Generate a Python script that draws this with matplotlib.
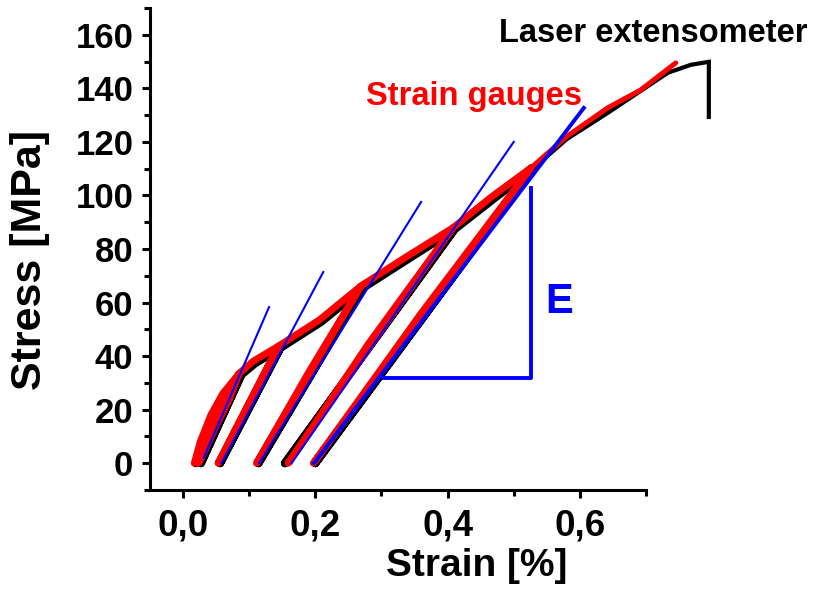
import matplotlib
matplotlib.use("Agg")
import matplotlib.pyplot as plt
from matplotlib.ticker import FixedLocator

plt.rcParams['font.family'] = ['Liberation Sans', 'DejaVu Sans']
plt.rcParams['font.weight'] = 'bold'

# ---------------- data ----------------
# Strain gauges (red): cyclic part
gauge_cyc_strain = [0.017, 0.026, 0.042, 0.060, 0.085, 0.062, 0.040, 0.023, 0.028, 0.050, 0.070, 0.085,
                    0.106, 0.144, 0.053, 0.100, 0.144,
                    0.206, 0.269, 0.111, 0.190, 0.269,
                    0.337, 0.408, 0.159, 0.280, 0.408,
                    0.466, 0.526, 0.197, 0.360, 0.526]
gauge_cyc_stress = [0, 8, 18, 26, 33.6, 23, 12, 0, 2, 14, 24, 33.6,
                    38.1, 43.7, 0, 22.5, 43.7,
                    53.5, 66.2, 0, 34, 66.2,
                    77.0, 87.9, 0, 44.5, 87.9,
                    99.4, 110.3, 0, 56, 110.3]
# Strain gauges (red): final loading
gauge_fin_strain = [0.526, 0.580, 0.642, 0.692, 0.745]
gauge_fin_stress = [110.3, 122.0, 132.7, 139.4, 149.5]

# Laser extensometer (black): cyclic part
laser_cyc_strain = [0.019, 0.030, 0.046, 0.064, 0.088, 0.027, 0.088,
                    0.109, 0.147, 0.056, 0.147,
                    0.209, 0.271, 0.114, 0.271,
                    0.340, 0.410, 0.154, 0.410,
                    0.469, 0.529, 0.200, 0.529]
laser_cyc_stress = [0, 8, 18, 26, 33, 0, 33,
                    37.3, 43.0, 0, 43.0,
                    52.8, 65.3, 0, 65.3,
                    76.2, 87.2, 0, 87.2,
                    98.6, 110.0, 0, 110.0]
# Laser extensometer (black): final loading and failure
laser_fin_strain = [0.529, 0.580, 0.642, 0.733, 0.768, 0.795, 0.795]
laser_fin_stress = [110.0, 121.0, 130.8, 145.8, 148.8, 149.9, 129.3]

# Modulus lines (blue): start/end per unloading cycle
mod_strain = [(0.031, 0.130), (0.058, 0.212), (0.115, 0.360), (0.164, 0.500)]
mod_stress = [(1.9, 58.3), (0.0, 71.4), (0.0, 97.6), (0.0, 120.0)]
final_mod_strain = (0.198, 0.606)
final_mod_stress = (0.0, 132.7)
# E triangle
tri_strain = [0.304, 0.526, 0.526]
tri_stress = [31.8, 31.8, 102.8]

xticks = [0.0, 0.2, 0.4, 0.6]
xtick_labels = ['0,0', '0,2', '0,4', '0,6']
yticks = [0, 20, 40, 60, 80, 100, 120, 140, 160]
ytick_labels = ['0', '20', '40', '60', '80', '100', '120', '140', '160']

# ---------------- plot ----------------
fig = plt.figure(figsize=(8.14, 5.92), dpi=100)
ax = fig.add_axes([150/814, (592-490)/592, (646-150)/814, (490-8)/592])

ax.plot(laser_cyc_strain, laser_cyc_stress, color='black', lw=5.8, solid_joinstyle='round',
        solid_capstyle='round', clip_on=False, zorder=2)
ax.plot(laser_fin_strain, laser_fin_stress, color='black', lw=3.0, solid_joinstyle='miter',
        clip_on=False, zorder=2)
ax.plot(gauge_cyc_strain, gauge_cyc_stress, color='#ff0000', lw=5.0, solid_joinstyle='round',
        solid_capstyle='round', clip_on=False, zorder=3)
ax.plot(gauge_fin_strain, gauge_fin_stress, color='#ff0000', lw=3.6, solid_joinstyle='round',
        solid_capstyle='round', clip_on=False, zorder=3)

for xs, ys in zip(mod_strain, mod_stress):
    ax.plot(xs, ys, color='#0000ff', lw=1.5, clip_on=False, zorder=4)
ax.plot(final_mod_strain, final_mod_stress, color='#0000ff', lw=2.8, clip_on=False, zorder=4)
ax.plot(tri_strain, tri_stress, color='#0000ff', lw=2.8, clip_on=False, zorder=4)

ax.text(0.478, 157.4, 'Laser extensometer', color='black', fontsize=23.5, fontweight='bold',
        ha='left', va='baseline')
ax.text(0.277, 133.8, 'Strain gauges', color='#ff0000', fontsize=23.5, fontweight='bold',
        ha='left', va='baseline')
ax.text(0.547, 56.1, 'E', color='#0000ff', fontsize=30, fontweight='bold',
        ha='left', va='baseline')

ax.set_xlim(-0.05, 0.7)
ax.set_ylim(-10, 170)
ax.xaxis.set_major_locator(FixedLocator(xticks))
ax.set_xticklabels(xtick_labels)
ax.xaxis.set_minor_locator(FixedLocator([0.1, 0.3, 0.5, 0.7]))
ax.yaxis.set_major_locator(FixedLocator(yticks))
ax.set_yticklabels(ytick_labels)
ax.yaxis.set_minor_locator(FixedLocator([-10, 10, 30, 50, 70, 90, 110, 130, 150, 170]))

for s in ['top', 'right']:
    ax.spines[s].set_visible(False)
for s in ['left', 'bottom']:
    ax.spines[s].set_linewidth(2.2)

ax.tick_params(which='major', direction='out', length=6, width=2.2)
ax.tick_params(which='minor', direction='out', length=4, width=2.2)
ax.tick_params(axis='y', which='major', labelsize=25, pad=6)
ax.tick_params(axis='x', which='major', labelsize=26.5, pad=7)
for lab in ax.get_xticklabels() + ax.get_yticklabels():
    lab.set_fontweight('bold')

ax.set_xlabel('Strain [%]', fontsize=28, fontweight='bold')
ax.set_ylabel('Stress [MPa]', fontsize=31, fontweight='bold')
ax.xaxis.set_label_coords((477-150)/496, -(566-490)/482)
ax.yaxis.set_label_coords((30-150)/496, (490-260)/482)
ax.xaxis.label.set_va('center')
ax.yaxis.label.set_va('center')

fig.savefig('out.png', dpi=100)
